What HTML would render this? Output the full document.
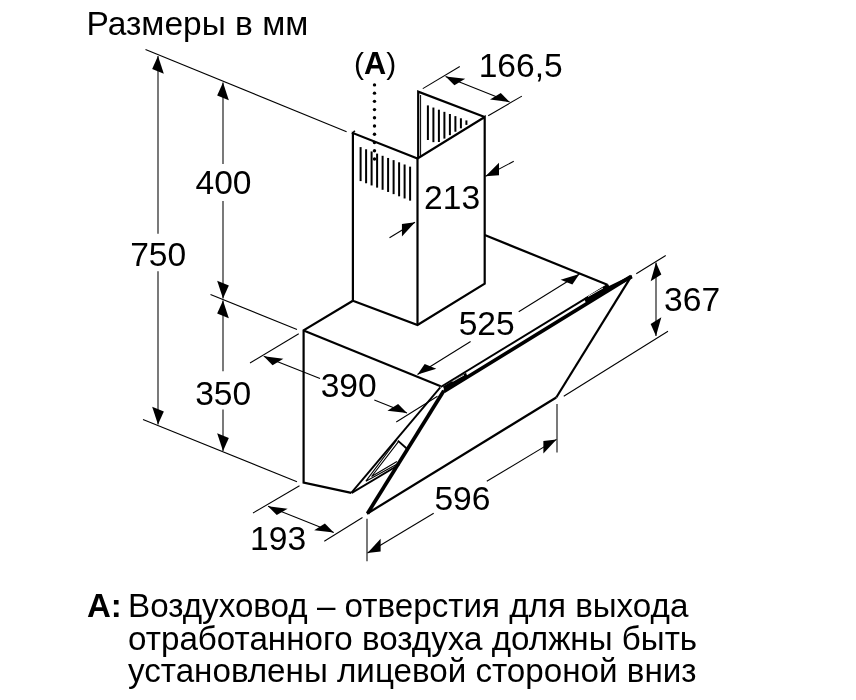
<!DOCTYPE html>
<html><head><meta charset="utf-8"><style>
html,body{margin:0;padding:0;background:#fff;width:856px;height:700px;overflow:hidden}
svg{position:absolute;left:0;top:0;will-change:transform}
text{font-family:"Liberation Sans",sans-serif;fill:#000;stroke:none}
</style></head><body>
<svg width="856" height="700" viewBox="0 0 856 700" stroke="#000" stroke-linecap="butt">
<line x1="145.50" y1="49.50" x2="346.60" y2="131.70" stroke-width="1.05"/>
<line x1="210.50" y1="294.50" x2="297.00" y2="329.50" stroke-width="1.05"/>
<line x1="143.00" y1="419.50" x2="297.00" y2="481.75" stroke-width="1.05"/>
<line x1="158.00" y1="56.00" x2="158.00" y2="233.75" stroke-width="1.05"/>
<line x1="158.00" y1="271.25" x2="158.00" y2="424.50" stroke-width="1.05"/>
<polygon points="158.00,56.00 163.83,73.69 152.17,68.91" fill="#000" stroke="none"/>
<polygon points="158.00,424.50 163.84,411.56 152.16,406.84" fill="#000" stroke="none"/>
<line x1="223.00" y1="82.50" x2="223.00" y2="164.00" stroke-width="1.05"/>
<line x1="223.00" y1="201.00" x2="223.00" y2="298.50" stroke-width="1.05"/>
<polygon points="223.00,82.50 228.83,100.19 217.17,95.41" fill="#000" stroke="none"/>
<polygon points="223.00,298.50 228.84,285.56 217.16,280.84" fill="#000" stroke="none"/>
<line x1="223.00" y1="300.50" x2="223.00" y2="371.25" stroke-width="1.05"/>
<line x1="223.00" y1="409.50" x2="223.00" y2="451.00" stroke-width="1.05"/>
<polygon points="223.00,300.50 228.84,318.16 217.16,313.44" fill="#000" stroke="none"/>
<polygon points="223.00,451.00 228.84,438.06 217.16,433.34" fill="#000" stroke="none"/>
<line x1="250.00" y1="363.00" x2="298.75" y2="333.75" stroke-width="1.05"/>
<line x1="396.25" y1="422.00" x2="437.50" y2="396.25" stroke-width="1.05"/>
<line x1="263.75" y1="356.25" x2="320.00" y2="378.53" stroke-width="1.05"/>
<line x1="374.30" y1="400.05" x2="407.00" y2="413.00" stroke-width="1.05"/>
<polygon points="263.75,356.25 283.38,358.64 272.57,365.13" fill="#000" stroke="none"/>
<polygon points="407.00,413.00 398.13,404.05 387.42,410.68" fill="#000" stroke="none"/>
<line x1="253.00" y1="513.00" x2="299.50" y2="485.75" stroke-width="1.05"/>
<line x1="324.25" y1="541.25" x2="362.50" y2="517.50" stroke-width="1.05"/>
<line x1="268.00" y1="506.25" x2="333.75" y2="532.50" stroke-width="1.05"/>
<polygon points="268.00,506.25 287.64,508.74 276.77,515.11" fill="#000" stroke="none"/>
<polygon points="333.75,532.50 324.89,523.51 314.19,530.15" fill="#000" stroke="none"/>
<line x1="367.00" y1="518.75" x2="367.00" y2="561.25" stroke-width="1.05"/>
<line x1="557.00" y1="404.00" x2="557.00" y2="452.50" stroke-width="1.05"/>
<line x1="367.50" y1="553.00" x2="433.70" y2="513.21" stroke-width="1.05"/>
<line x1="486.80" y1="481.29" x2="556.50" y2="439.40" stroke-width="1.05"/>
<polygon points="367.50,553.00 380.61,551.42 380.61,538.82" fill="#000" stroke="none"/>
<polygon points="556.50,439.40 543.39,453.58 543.39,440.98" fill="#000" stroke="none"/>
<line x1="417.50" y1="374.50" x2="470.60" y2="341.56" stroke-width="1.05"/>
<line x1="518.70" y1="311.72" x2="579.50" y2="274.00" stroke-width="1.05"/>
<polygon points="417.50,374.50 436.34,368.80 424.66,364.07" fill="#000" stroke="none"/>
<polygon points="579.50,274.00 572.35,284.41 560.65,279.73" fill="#000" stroke="none"/>
<line x1="636.25" y1="273.75" x2="665.75" y2="255.50" stroke-width="1.05"/>
<line x1="563.75" y1="396.25" x2="668.00" y2="331.25" stroke-width="1.05"/>
<line x1="656.00" y1="262.50" x2="656.00" y2="336.00" stroke-width="1.05"/>
<polygon points="656.00,262.50 661.33,274.44 650.67,281.16" fill="#000" stroke="none"/>
<polygon points="656.00,336.00 661.35,317.37 650.65,324.03" fill="#000" stroke="none"/>
<line x1="389.50" y1="237.80" x2="415.00" y2="222.30" stroke-width="1.05"/>
<polygon points="415.00,222.30 401.93,236.55 401.93,223.95" fill="#000" stroke="none"/>
<line x1="513.75" y1="161.25" x2="485.50" y2="176.25" stroke-width="1.05"/>
<polygon points="485.50,176.25 499.01,175.37 499.01,162.77" fill="#000" stroke="none"/>
<line x1="422.80" y1="88.60" x2="459.80" y2="66.50" stroke-width="1.05"/>
<line x1="488.20" y1="115.70" x2="521.90" y2="96.10" stroke-width="1.05"/>
<line x1="445.60" y1="76.40" x2="509.60" y2="102.00" stroke-width="1.05"/>
<polygon points="445.60,76.40 465.21,78.84 454.40,85.32" fill="#000" stroke="none"/>
<polygon points="509.60,102.00 500.80,93.08 489.99,99.56" fill="#000" stroke="none"/>
<polyline points="352.90,300.75 352.90,133.10 417.50,158.50 484.70,117.00 484.70,283.75 417.50,325.00 352.90,300.75" fill="none" stroke-width="2.2" stroke-linejoin="miter"/>
<line x1="354.80" y1="130.70" x2="352.00" y2="134.00" stroke-width="1.6"/>
<line x1="417.50" y1="158.00" x2="417.50" y2="325.00" stroke-width="2.2"/>
<polyline points="418.20,158.00 418.20,91.60 484.70,117.00" fill="none" stroke-width="2.2" stroke-linejoin="miter"/>
<line x1="420.60" y1="95.00" x2="420.60" y2="156.00" stroke-width="1.0"/>
<polyline points="352.90,300.75 303.60,330.40 303.60,482.50 351.30,492.90" fill="none" stroke-width="2.2" stroke-linejoin="miter"/>
<line x1="351.30" y1="492.90" x2="440.30" y2="387.30" stroke-width="1.9"/>
<line x1="303.60" y1="330.40" x2="440.70" y2="386.20" stroke-width="2.2"/>
<line x1="484.70" y1="235.00" x2="607.40" y2="284.80" stroke-width="2.2"/>
<line x1="607.40" y1="284.80" x2="608.60" y2="287.30" stroke-width="1.6"/>
<polyline points="556.25,397.50 631.20,276.40" fill="none" stroke-width="2.2" stroke-linejoin="miter"/>
<polyline points="367.00,513.75 556.25,397.50" fill="none" stroke-width="2.2" stroke-linejoin="miter"/>
<line x1="367.50" y1="513.50" x2="443.80" y2="390.80" stroke-width="3.7"/>
<line x1="440.70" y1="387.00" x2="607.40" y2="285.20" stroke-width="2.0"/>
<line x1="444.00" y1="391.50" x2="631.20" y2="276.40" stroke-width="3.6"/>
<polygon points="631.60,275.00 632.60,278.20 609.00,290.20 608.00,286.40" fill="#000" stroke="none"/>
<polygon points="443.00,386.50 466.00,372.70 468.00,378.00 445.00,392.00" fill="#000" stroke="none"/>
<polygon points="584.00,298.50 608.00,284.00 610.00,289.00 586.00,303.00" fill="#000" stroke="none"/>
<line x1="452.5" y1="381.5" x2="464" y2="375" stroke="#fff" stroke-width="0.9"/>
<line x1="588" y1="296.5" x2="603" y2="288" stroke="#fff" stroke-width="0.9"/>
<line x1="351.80" y1="492.90" x2="399.00" y2="464.70" stroke-width="1.9"/>
<polyline points="396.57,440.21 365.90,481.20 398.16,463.52" fill="none" stroke-width="1.1" stroke-linejoin="miter"/>
<polyline points="398.47,441.67 371.59,476.51 396.94,461.45" fill="none" stroke-width="1.1" stroke-linejoin="miter"/>
<line x1="397.80" y1="440.60" x2="406.40" y2="448.20" stroke-width="1.9"/>
<line x1="360.60" y1="147.10" x2="360.60" y2="181.10" stroke-width="2.0"/>
<line x1="366.10" y1="149.27" x2="366.10" y2="183.27" stroke-width="2.0"/>
<line x1="371.60" y1="151.44" x2="371.60" y2="185.44" stroke-width="2.0"/>
<line x1="377.10" y1="153.62" x2="377.10" y2="187.62" stroke-width="2.0"/>
<line x1="382.60" y1="155.79" x2="382.60" y2="189.79" stroke-width="2.0"/>
<line x1="388.10" y1="157.96" x2="388.10" y2="191.96" stroke-width="2.0"/>
<line x1="393.60" y1="160.13" x2="393.60" y2="194.13" stroke-width="2.0"/>
<line x1="399.10" y1="162.31" x2="399.10" y2="196.31" stroke-width="2.0"/>
<line x1="404.60" y1="164.48" x2="404.60" y2="198.48" stroke-width="2.0"/>
<line x1="410.10" y1="166.65" x2="410.10" y2="200.65" stroke-width="2.0"/>
<line x1="427.90" y1="105.40" x2="427.90" y2="140.00" stroke-width="2.0"/>
<line x1="433.40" y1="107.55" x2="433.40" y2="142.15" stroke-width="2.0"/>
<line x1="438.90" y1="109.69" x2="438.90" y2="142.03" stroke-width="2.0"/>
<line x1="444.40" y1="111.84" x2="444.40" y2="138.60" stroke-width="2.0"/>
<line x1="449.90" y1="113.98" x2="449.90" y2="135.17" stroke-width="2.0"/>
<line x1="455.40" y1="116.12" x2="455.40" y2="131.75" stroke-width="2.0"/>
<line x1="460.90" y1="118.27" x2="460.90" y2="128.32" stroke-width="2.0"/>
<line x1="466.40" y1="120.42" x2="466.40" y2="124.89" stroke-width="2.0"/>
<circle cx="374.5" cy="84.90" r="1.7" fill="#000" stroke="none"/>
<circle cx="374.5" cy="93.13" r="1.7" fill="#000" stroke="none"/>
<circle cx="374.5" cy="101.36" r="1.7" fill="#000" stroke="none"/>
<circle cx="374.5" cy="109.59" r="1.7" fill="#000" stroke="none"/>
<circle cx="374.5" cy="117.82" r="1.7" fill="#000" stroke="none"/>
<circle cx="374.5" cy="126.05" r="1.7" fill="#000" stroke="none"/>
<circle cx="374.5" cy="134.28" r="1.7" fill="#000" stroke="none"/>
<circle cx="374.5" cy="142.51" r="1.7" fill="#000" stroke="none"/>
<circle cx="374.5" cy="150.74" r="1.7" fill="#000" stroke="none"/>
<circle cx="374.5" cy="158.97" r="1.7" fill="#000" stroke="none"/>
<text x="86.5" y="35" font-size="33.5" font-weight="normal" text-anchor="start">Размеры в мм</text>
<text x="223.5" y="193.75" font-size="33.6" font-weight="normal" text-anchor="middle">400</text>
<text x="158.2" y="265.5" font-size="33.6" font-weight="normal" text-anchor="middle">750</text>
<text x="223.2" y="404.5" font-size="33.6" font-weight="normal" text-anchor="middle">350</text>
<text x="348.7" y="397" font-size="33.6" font-weight="normal" text-anchor="middle">390</text>
<text x="278.1" y="549.5" font-size="33.6" font-weight="normal" text-anchor="middle">193</text>
<text x="462.4" y="510" font-size="33.6" font-weight="normal" text-anchor="middle">596</text>
<text x="486.7" y="335" font-size="33.6" font-weight="normal" text-anchor="middle">525</text>
<text x="452.1" y="208.8" font-size="33.6" font-weight="normal" text-anchor="middle">213</text>
<text x="692.1" y="310.5" font-size="33.6" font-weight="normal" text-anchor="middle">367</text>
<text x="520.7" y="77" font-size="33.6" font-weight="normal" text-anchor="middle">166,5</text>
<text x="354" y="74" font-size="30">(<tspan font-weight="bold" font-size="30.7">A</tspan>)</text>
<text x="87" y="616.5" font-size="33" font-weight="bold">A:</text>
<text x="128" y="616.6" font-size="33.2">Воздуховод – отверстия для выхода</text>
<text x="128" y="649.6" font-size="33.2">отработанного воздуха должны быть</text>
<text x="128" y="681.8" font-size="33.2">установлены лицевой стороной вниз</text>
</svg>
</body></html>
